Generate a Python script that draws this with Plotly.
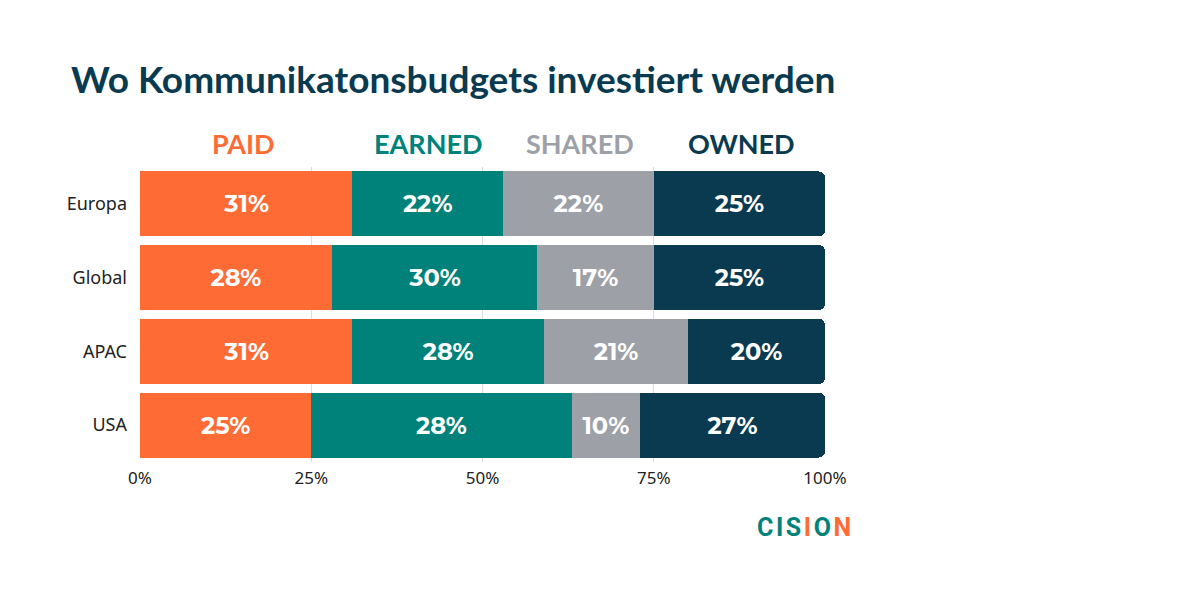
import plotly.graph_objects as go

regions = ["Europa", "Global", "APAC", "USA"]
series_names = ["PAID", "EARNED", "SHARED", "OWNED"]
# bar widths as drawn (percent)
paid = [31, 28, 31, 25]
earned = [22, 30, 28, 38]
shared = [22, 17, 21, 10]
owned = [25, 25, 20, 27]
# labels as printed
paid_lbl = ["31%", "28%", "31%", "25%"]
earned_lbl = ["22%", "30%", "28%", "28%"]
shared_lbl = ["22%", "17%", "21%", "10%"]
owned_lbl = ["25%", "25%", "20%", "27%"]
x_ticks = [0, 25, 50, 75, 100]
x_tick_labels = ["0%", "25%", "50%", "75%", "100%"]

colors = ["#FF6B35", "#00827A", "#9DA1A7", "#0A3A4F"]
values = [paid, earned, shared, owned]
labels = [paid_lbl, earned_lbl, shared_lbl, owned_lbl]

OFF = 8  # page body margin
W, H = 1200, 600
# target screen pixel positions of plot area
px_left, px_right, px_top, px_bottom = 140, 825, 167, 462
pl, pr, pt, pb = px_left - OFF, px_right - OFF, px_top - OFF, px_bottom - OFF
pw, ph = pr - pl, pb - pt


def paper_x(px):
    return (px - OFF - pl) / pw


def paper_y(py):
    return (pb - (py - OFF)) / ph


fig = go.Figure()
for name, vals, lbls, col in zip(series_names, values, labels, colors):
    fig.add_trace(go.Bar(
        y=regions, x=vals, orientation="h", name=name,
        marker=dict(color=col, line=dict(width=0)),
        text=lbls, textposition="inside", insidetextanchor="middle",
        textfont=dict(family="Montserrat, Lato, 'Open Sans', sans-serif", size=24, color="white", weight="bold"),
        textangle=0,
        hoverinfo="skip",
    ))

header_px = [243, 428, 580, 741]
for name, xp, col in zip(series_names, header_px, colors):
    fig.add_annotation(x=paper_x(xp), xref="paper", xanchor="center",
                       y=paper_y(143), yref="paper", yanchor="middle",
                       text=f"<b>{name}</b>", showarrow=False,
                       font=dict(family="Lato, 'Open Sans', sans-serif", size=27, color=col))

fig.add_annotation(text="<b>Wo Kommunikatonsbudgets investiert werden</b>", showarrow=False,
                   xref="paper", x=paper_x(69), xanchor="left",
                   yref="paper", y=paper_y(78), yanchor="middle",
                   font=dict(family="Lato, 'Open Sans', sans-serif", size=37, color="#0A3A4F"))

hs = "\u200a"
logo = (f'<span style="color:#00827A">C</span>{hs}<span style="color:#00827A">I</span>{hs}'
        f'<span style="color:#00827A">S</span>{hs}<span style="color:#FF6B35">I</span>{hs}'
        f'<span style="color:#00827A">O</span>{hs}<span style="color:#FF6B35">N</span>')
fig.add_annotation(text=f"<b>{logo}</b>", showarrow=False, xref="paper", yref="paper",
                   x=paper_x(804), xanchor="center", y=paper_y(527), yanchor="middle",
                   font=dict(family="Roboto, sans-serif", size=25))

fig.update_layout(
    barmode="stack",
    barcornerradius=6,
    bargap=0.12,
    width=W, height=H,
    margin=dict(l=pl, r=W - pr, t=pt, b=H - pb, autoexpand=False),
    paper_bgcolor="white", plot_bgcolor="white",
    showlegend=False,
    xaxis=dict(range=[0, 100], tickvals=x_ticks, ticktext=x_tick_labels,
               showgrid=True, gridcolor="#DDDDDD", gridwidth=1, zeroline=False,
               tickfont=dict(family="'Noto Sans', sans-serif", size=17, color="#222222"),
               ticks="", ticklabelstandoff=4),
    yaxis=dict(categoryorder="array", categoryarray=regions[::-1], showgrid=False,
               tickfont=dict(family="'Noto Sans', sans-serif", size=18, color="#222222"),
               ticks="", ticklabelstandoff=12),
    uniformtext=dict(mode="show", minsize=10),
)

fig.write_html("out.html")
